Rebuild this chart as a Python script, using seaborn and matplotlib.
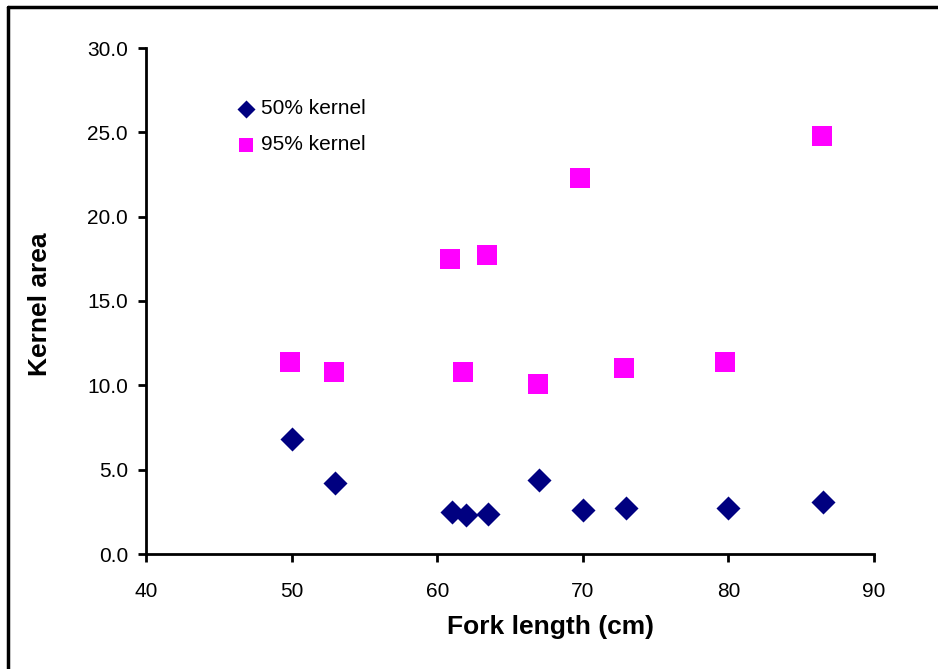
import matplotlib
matplotlib.use("Agg")
import matplotlib.pyplot as plt
import seaborn as sns
import pandas as pd
from matplotlib.lines import Line2D

# Data
fork_50 = [50.0, 53.0, 61.0, 62.0, 63.5, 67.0, 70.0, 73.0, 80.0, 86.5]
kernel_50 = [6.8, 4.2, 2.5, 2.3, 2.4, 4.4, 2.6, 2.7, 2.7, 3.1]
fork_95 = [49.9, 52.9, 60.9, 61.8, 63.4, 66.9, 69.8, 72.8, 79.8, 86.4]
kernel_95 = [11.4, 10.8, 17.5, 10.8, 17.7, 10.1, 22.3, 11.0, 11.4, 24.8]
series_labels = ["50% kernel", "95% kernel"]
x_ticks = [40, 50, 60, 70, 80, 90]
y_ticks = [0, 5, 10, 15, 20, 25, 30]

sns.set_style("white")
plt.rcParams["font.family"] = ["Liberation Sans", "DejaVu Sans"]
plt.rcParams["text.color"] = "black"
plt.rcParams["axes.labelcolor"] = "black"

fig = plt.figure(figsize=(9.38, 6.69), dpi=100)
W, H = 938, 669
ax = fig.add_axes([146 / W, 1 - 554 / H, (874 - 146) / W, (554 - 48) / H])

df50 = pd.DataFrame({"x": fork_50, "y": kernel_50})
df95 = pd.DataFrame({"x": fork_95, "y": kernel_95})

sns.scatterplot(data=df50, x="x", y="y", ax=ax, marker="D", s=150,
                color="#000080", edgecolor="#000080", linewidth=0, label=series_labels[0])
sns.scatterplot(data=df95, x="x", y="y", ax=ax, marker="s", s=205,
                color="#FF00FF", edgecolor="#FF00FF", linewidth=0, label=series_labels[1])

ax.set_xlim(40, 90)
ax.set_ylim(0, 30)
ax.set_xticks(x_ticks)
ax.set_xticklabels([str(v) for v in x_ticks])
ax.set_yticks(y_ticks)
ax.set_yticklabels([f"{v:.1f}" for v in y_ticks])

for s in ["top", "right"]:
    ax.spines[s].set_visible(False)
for s in ["left", "bottom"]:
    ax.spines[s].set_color("black")
    ax.spines[s].set_linewidth(2)

ax.tick_params(axis="both", direction="out", length=6, width=2, color="black",
               labelsize=15, labelcolor="black", bottom=True, left=True)
ax.tick_params(axis="x", pad=14)
ax.tick_params(axis="y", pad=7)

ax.set_xlabel("Fork length (cm)", fontsize=19, fontweight="bold", color="black")
ax.xaxis.set_label_coords((550 - 146) / 728, -(627 - 554) / 506, transform=ax.transAxes)
ax.xaxis.label.set_verticalalignment("center")
ax.set_ylabel("Kernel area", fontsize=19, fontweight="bold", color="black")
ax.yaxis.set_label_coords(-(146 - 40) / 728, (554 - 304) / 506, transform=ax.transAxes)
ax.yaxis.label.set_verticalalignment("center")

leg = ax.legend(loc="upper left", bbox_to_anchor=(0.109, 0.915), frameon=False,
                fontsize=15, markerscale=0.75, handletextpad=0.1, labelspacing=0.8,
                borderaxespad=0, handlelength=1.2)
for t in leg.get_texts():
    t.set_color("black")

fig.add_artist(Line2D([8 / W, 8 / W], [0, 1 - 7 / H], color="black", linewidth=2.5,
                      transform=fig.transFigure))
fig.add_artist(Line2D([8 / W, 1], [1 - 7 / H, 1 - 7 / H], color="black", linewidth=2.5,
                      transform=fig.transFigure))

fig.savefig("out.png", dpi=100)
